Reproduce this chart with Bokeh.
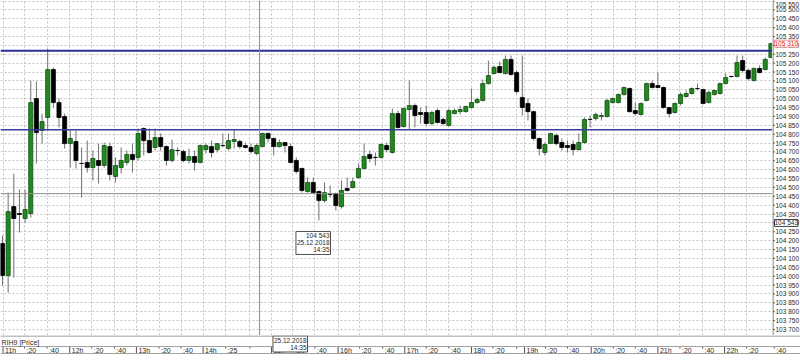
from bokeh.plotting import figure
from bokeh.models import (ColumnDataSource, Span, Label, FixedTicker, Range1d, Grid)
from bokeh.layouts import column, row
from bokeh.core.properties import value
from bokeh.embed import file_html
from bokeh.resources import INLINE

# ---- data (RIH9, 5-minute candles, 25.12.2018) ----
opens = [104.184, 104.004, 104.392, 104.353, 104.325, 104.353, 105.001, 104.821, 104.894, 105.164,
         104.978, 104.899, 104.747, 104.759, 104.635, 104.641, 104.612, 104.652, 104.624, 104.730,
         104.562, 104.612, 104.641, 104.686, 104.669, 104.832, 104.764, 104.725, 104.781, 104.730,
         104.652, 104.708, 104.702, 104.652, 104.674, 104.641, 104.713, 104.730, 104.713, 104.736,
         104.719, 104.759, 104.759, 104.736, 104.725, 104.691, 104.730, 104.804, 104.776, 104.730,
         104.753, 104.730, 104.652, 104.607, 104.477, 104.528, 104.477, 104.426, 104.460, 104.466,
         104.392, 104.494, 104.500, 104.556, 104.607, 104.686, 104.669, 104.669, 104.736, 104.697,
         104.916, 104.843, 104.939, 104.961, 104.922, 104.922, 104.860, 104.933, 104.883, 104.849,
         104.916, 104.927, 104.927, 104.950, 104.978, 104.990, 105.085, 105.142, 105.181, 105.142,
         105.221, 105.147, 105.007, 104.973, 104.927, 104.776, 104.697, 104.747, 104.792, 104.753,
         104.736, 104.742, 104.713, 104.753, 104.883, 104.888, 104.899, 104.899, 104.978, 104.978,
         105.023, 105.057, 104.933, 104.911, 104.990, 105.085, 105.074, 105.063, 104.950, 104.922,
         104.973, 105.012, 105.029, 105.057, 105.051, 104.978, 105.023, 105.029, 105.085, 105.125,
         105.125, 105.215, 105.159, 105.102, 105.170, 105.164, 105.232]
highs = [104.229, 104.471, 104.578, 104.488, 104.488, 105.102, 105.097, 104.916, 105.283, 105.176,
         105.001, 104.916, 104.821, 104.821, 104.725, 104.764, 104.708, 104.747, 104.753, 104.753,
         104.669, 104.725, 104.708, 104.747, 104.832, 104.838, 104.832, 104.832, 104.804, 104.736,
         104.770, 104.725, 104.713, 104.719, 104.708, 104.742, 104.747, 104.764, 104.747, 104.804,
         104.804, 104.826, 104.770, 104.753, 104.747, 104.747, 104.809, 104.809, 104.781, 104.770,
         104.753, 104.747, 104.669, 104.612, 104.556, 104.556, 104.483, 104.528, 104.511, 104.471,
         104.539, 104.556, 104.556, 104.635, 104.747, 104.708, 104.697, 104.747, 104.753, 104.944,
         104.933, 104.950, 105.102, 104.973, 104.950, 104.961, 104.933, 104.944, 104.894, 104.944,
         104.944, 104.961, 104.961, 105.057, 105.007, 105.108, 105.215, 105.187, 105.209, 105.243,
         105.243, 105.159, 105.243, 105.001, 104.933, 104.781, 104.753, 104.809, 104.804, 104.776,
         104.764, 104.764, 104.804, 104.894, 104.905, 104.922, 104.922, 105.001, 105.007, 105.029,
         105.068, 105.063, 104.978, 104.978, 105.091, 105.102, 105.147, 105.068, 104.950, 104.978,
         105.035, 105.046, 105.063, 105.085, 105.057, 105.046, 105.051, 105.091, 105.142, 105.130,
         105.243, 105.243, 105.170, 105.176, 105.187, 105.232, 105.316]
lows = [103.948, 103.908, 103.993, 104.246, 104.302, 104.331, 104.635, 104.747, 104.821, 104.950,
        104.838, 104.719, 104.612, 104.607, 104.443, 104.584, 104.539, 104.522, 104.612, 104.539,
        104.528, 104.578, 104.624, 104.584, 104.652, 104.680, 104.691, 104.708, 104.708, 104.624,
        104.641, 104.680, 104.641, 104.635, 104.595, 104.635, 104.691, 104.669, 104.697, 104.725,
        104.708, 104.719, 104.719, 104.719, 104.691, 104.680, 104.725, 104.753, 104.680, 104.725,
        104.697, 104.635, 104.578, 104.471, 104.471, 104.466, 104.314, 104.415, 104.443, 104.370,
        104.381, 104.477, 104.494, 104.550, 104.601, 104.641, 104.624, 104.663, 104.697, 104.691,
        104.832, 104.838, 104.826, 104.838, 104.860, 104.849, 104.849, 104.860, 104.849, 104.843,
        104.911, 104.911, 104.922, 104.944, 104.973, 104.984, 105.080, 105.136, 105.142, 105.136,
        105.130, 105.029, 104.905, 104.877, 104.764, 104.680, 104.680, 104.747, 104.736, 104.708,
        104.697, 104.680, 104.708, 104.747, 104.838, 104.877, 104.877, 104.894, 104.973, 104.973,
        105.018, 104.922, 104.905, 104.905, 104.984, 105.057, 105.057, 104.944, 104.894, 104.916,
        104.961, 105.007, 105.023, 105.046, 104.967, 104.973, 105.018, 105.023, 105.080, 105.119,
        105.119, 105.147, 105.102, 105.097, 105.142, 105.159, 105.232]
closes = [104.004, 104.364, 104.325, 104.348, 104.376, 104.978, 104.809, 104.871, 105.164, 104.978,
          104.894, 104.747, 104.776, 104.652, 104.635, 104.612, 104.663, 104.624, 104.736, 104.573,
          104.624, 104.652, 104.686, 104.657, 104.804, 104.764, 104.697, 104.781, 104.730, 104.652,
          104.713, 104.708, 104.652, 104.674, 104.641, 104.736, 104.736, 104.697, 104.747, 104.736,
          104.764, 104.770, 104.730, 104.725, 104.702, 104.736, 104.804, 104.776, 104.730, 104.753,
          104.736, 104.641, 104.590, 104.483, 104.528, 104.471, 104.426, 104.471, 104.460, 104.398,
          104.483, 104.483, 104.533, 104.607, 104.674, 104.663, 104.669, 104.742, 104.713, 104.916,
          104.838, 104.944, 104.961, 104.905, 104.911, 104.860, 104.922, 104.866, 104.860, 104.933,
          104.933, 104.939, 104.956, 104.978, 104.995, 105.085, 105.130, 105.176, 105.147, 105.221,
          105.136, 105.040, 104.950, 104.927, 104.776, 104.719, 104.742, 104.804, 104.747, 104.725,
          104.725, 104.713, 104.753, 104.883, 104.883, 104.911, 104.905, 104.990, 105.001, 105.023,
          105.063, 104.927, 104.916, 104.973, 105.085, 105.063, 105.063, 104.950, 104.916, 104.973,
          105.023, 105.029, 105.057, 105.057, 104.973, 105.035, 105.046, 105.085, 105.119, 105.125,
          105.204, 105.159, 105.113, 105.170, 105.147, 105.221, 105.310]

level_upper = 105.270
level_lower = 104.825
cross_price_line = 104.465
cross_index = 45.5
cross_value_text = "104 543"
cross_date_text = "25.12.2018"
cross_time_text = "14:35"
last_price = 105.310
instrument_text = "RIH9 [Price]"

price_ticks = [103.70, 103.75, 103.80, 103.85, 103.90, 103.95, 104.00, 104.05, 104.10, 104.15,
               104.20, 104.25, 104.30, 104.35, 104.40, 104.45, 104.50, 104.55, 104.60, 104.65,
               104.70, 104.75, 104.80, 104.85, 104.90, 104.95, 105.00, 105.05, 105.10, 105.15,
               105.20, 105.25, 105.30, 105.35, 105.40, 105.45, 105.50, 105.55]
time_tick_pos = [0.1, 3.9, 7.9, 11.9, 15.8, 19.8, 23.7, 27.7, 31.6, 35.5, 39.5, 43.8,
                 47.6, 51.4, 55.3, 59.4, 63.2, 67.3, 71.2, 75.0, 79.0, 83.0, 86.8, 91.0,
                 92.4, 96.1, 100.0, 104.2, 108.1, 112.0, 116.0, 119.9, 123.9, 127.8, 131.7, 136.6]
time_tick_labels = ["11h", ":20", ":40", "12h", ":20", ":40", "13h", ":20", ":40", "14h", ":25", "",
                    "15h", ":20", ":40", "16h", ":20", ":40", "17h", ":20", ":40", "18h", ":20", "",
                    "19h", ":20", ":40", "20h", ":20", ":40", "21h", ":20", ":40", "22h", ":20", ":40"]

FONT = "Liberation Sans"
TXT = "#2a2a2a"
GRID = "#c4c4c4"
PX_PER_BAR = 5.65          # horizontal scale used for all panels

def fmt_price(v):
    return f"{v:.3f}".replace(".", " ")

# ---- shared ranges ----
xr = Range1d(-0.354, -0.354 + 772 / PX_PER_BAR)
yr = Range1d(103.666, 105.553)

def make_fig(w, h, x_range, y_range):
    f = figure(width=w, height=h, x_range=x_range, y_range=y_range, output_backend="svg",
               toolbar_location=None, x_axis_location=None, y_axis_location=None, min_border=0,
               background_fill_color="white", border_fill_color="white")
    f.outline_line_color = None
    f.xgrid.visible = False
    f.ygrid.visible = False
    return f

# ---- main price panel ----
main = make_fig(772, 335, xr, yr)
main.add_layout(Grid(dimension=0, ticker=FixedTicker(ticks=time_tick_pos),
                     grid_line_color=GRID, grid_line_dash="2 2"))
main.add_layout(Grid(dimension=1, ticker=FixedTicker(ticks=price_ticks),
                     grid_line_color=GRID, grid_line_dash="2 2"))

main.add_layout(Span(location=level_upper, dimension="width", line_color="#2e2e9a", line_width=2))
main.add_layout(Span(location=level_lower, dimension="width", line_color="#3c3ca0", line_width=1.5))
main.add_layout(Span(location=cross_price_line, dimension="width", line_color="#8c8c8c", line_width=1))
main.add_layout(Span(location=cross_index, dimension="height", line_color="#8c8c8c", line_width=1))

idx = list(range(len(opens)))
up = [c > o for o, c in zip(opens, closes)]
def candle_source(flag):
    sel = [i for i in idx if up[i] == flag]
    return ColumnDataSource(dict(
        x=sel,
        top=[max(opens[i], closes[i]) for i in sel],
        bottom=[min(opens[i], closes[i]) for i in sel],
        high=[highs[i] for i in sel], low=[lows[i] for i in sel]))

for src, fill, line in ((candle_source(True), "#21891f", "#0f4f0f"),
                        (candle_source(False), "#000000", "#000000")):
    main.segment(x0="x", x1="x", y0="high", y1="low", source=src, line_color="#707070", line_width=1)
    main.vbar(x="x", top="top", bottom="bottom", width=0.72, source=src,
              fill_color=fill, line_color=line, line_width=0.8)

main.add_layout(Label(x=330, y=104.252, x_units="screen",
                      text=f"{cross_value_text}\n{cross_date_text}\n{cross_time_text}",
                      text_color=TXT, text_font=FONT, text_font_size="6.5px",
                      text_align="right", text_baseline="top", text_line_height=1.0,
                      background_fill_color="white", border_line_color="#505050", padding=1))

# ---- right price scale ----
RFS = "6.5px"
right = make_fig(28, 335, Range1d(0, 28), yr)
right.add_layout(Span(location=0.5, dimension="height", line_color="#606060", line_width=1))
top_tick = max(price_ticks)
ptick = ColumnDataSource(dict(y=price_ticks, lab=[fmt_price(t) for t in price_ticks],
                              yoff=[3 if t == top_tick else 0 for t in price_ticks]))
right.segment(x0=0, x1=2.5, y0="y", y1="y", source=ptick, line_color="#606060", line_width=1)
right.text(x=3, y="y", text="lab", source=ptick, y_offset="yoff", text_baseline="middle",
           text_align="left", text_font=value(FONT), text_font_size=RFS, text_color=TXT)
right.add_layout(Label(x=2, y=last_price, text=fmt_price(last_price),
                       text_color="#e02020", text_font=FONT, text_font_size=RFS,
                       text_baseline="middle", background_fill_color="white",
                       border_line_color="#e89090", padding=0))
right.add_layout(Label(x=2, y=104.30, text=cross_value_text,
                       text_color=TXT, text_font=FONT, text_font_size=RFS,
                       text_baseline="middle", background_fill_color="white",
                       border_line_color="#404040", padding=0))

# ---- bottom time scale ----
bottom = make_fig(800, 26, Range1d(-0.354, -0.354 + 800 / PX_PER_BAR), Range1d(0, 26))
bottom.add_layout(Span(location=25.5, dimension="width", line_color="#808080", line_width=1))
bottom.add_layout(Span(location=15, dimension="width", line_color="#a0a0a0", line_width=1))
bottom.add_layout(Span(location=8, dimension="width", line_color="#a0a0a0", line_width=1))
is_hour = [lab.endswith("h") for lab in time_tick_labels]
ttick = ColumnDataSource(dict(
    x=time_tick_pos, lab=time_tick_labels,
    y0=[8 if h else 13 for h in is_hour], y1=[15] * len(time_tick_pos)))
bottom.segment(x0="x", x1="x", y0="y0", y1="y1", source=ttick, line_color="#505050", line_width=1)
bottom.text(x="x", y=11.3, text="lab", source=ttick, x_offset=2, text_baseline="middle",
            text_align="left", text_font=value(FONT), text_font_size="7px", text_color=TXT)
bottom.add_layout(Label(x=1, y=23, x_units="screen", text=instrument_text,
                        text_color=TXT, text_font=FONT, text_font_size="7px", text_baseline="top"))
bottom.add_layout(Label(x=307, y=25.5, x_units="screen",
                        text=f"{cross_date_text}\n{cross_time_text}",
                        text_color=TXT, text_font=FONT, text_font_size="6.5px",
                        text_align="right", text_baseline="top", text_line_height=1.0,
                        background_fill_color="white", border_line_color="#505050", padding=1))

layout = column(row(main, right, spacing=0), bottom, spacing=0)
open("out.html", "w").write(file_html(layout, INLINE))
